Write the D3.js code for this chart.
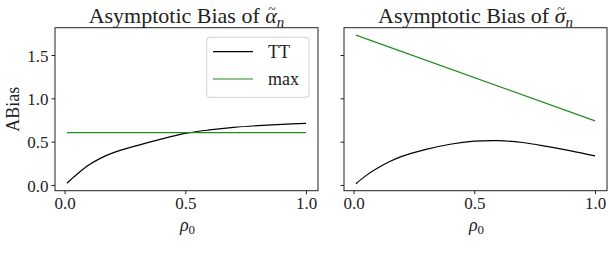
<!DOCTYPE html>
<html>
<head>
<meta charset="utf-8">
<script src="https://cdn.jsdelivr.net/npm/d3@7"></script>
<style>
  body { margin: 0; background: #fff; }
  svg text { font-family: "Liberation Serif", "DejaVu Serif", serif; fill: #222; }
</style>
</head>
<body>
<div id="chart"></div>
<script>
// rho_0 grid
const rho = [0.01, 0.05, 0.1, 0.15, 0.2, 0.3, 0.4, 0.5, 0.6, 0.7, 0.8, 0.9, 1.0];
const alphaTT = [0.02, 0.12, 0.23, 0.31, 0.37, 0.455, 0.53, 0.595, 0.635, 0.665, 0.685, 0.70, 0.712];
const sigmaTT = [0.015, 0.105, 0.195, 0.27, 0.33, 0.41, 0.47, 0.505, 0.512, 0.49, 0.445, 0.393, 0.335];
const maxRho = [0.01, 1.0];
const alphaMax = [0.605, 0.605];
const sigmaMax = [1.73, 0.74];

const xTicks = [0, 0.5, 1.0];
const yTicks = [0, 0.5, 1.0, 1.5];
const seriesNames = ["TT", "max"];
const seriesColors = ["#000000", "#228b22"];

const width = 615, height = 266;
const top_ = 27.7, bottom = 190.7;
const serif = '"Liberation Serif", "DejaVu Serif", serif';

const svg = d3.select("#chart").append("svg")
    .attr("width", width)
    .attr("height", height);

const y = d3.scaleLinear().domain([-0.066, 1.815]).range([bottom, top_]);

const panels = [
    { left: 55, right: 318, tt: alphaTT, mx: alphaMax, sym: "α", labels: true, legend: true },
    { left: 344, right: 607, tt: sigmaTT, mx: sigmaMax, sym: "σ", labels: false, legend: false }
];

panels.forEach(p => {
    const x = d3.scaleLinear().domain([-0.0395, 1.0495]).range([p.left, p.right]);
    const g = svg.append("g");

    const line = d3.line().x(d => x(d[0])).y(d => y(d[1])).curve(d3.curveCatmullRom.alpha(0.5));

    g.append("path")
        .attr("d", line(rho.map((r, i) => [r, p.tt[i]])))
        .attr("fill", "none")
        .attr("stroke", seriesColors[0])
        .attr("stroke-width", 1.2);

    g.append("path")
        .attr("d", line(maxRho.map((r, i) => [r, p.mx[i]])))
        .attr("fill", "none")
        .attr("stroke", seriesColors[1])
        .attr("stroke-width", 1.2);

    // axes
    const xa = g.append("g")
        .attr("transform", `translate(0,${bottom})`)
        .attr("font-family", serif)
        .call(d3.axisBottom(x).tickValues(xTicks).tickFormat(d3.format(".1f")).tickSize(3.5).tickPadding(3));
    xa.select(".domain").remove();
    xa.selectAll("line").attr("stroke", "#222");
    xa.selectAll("text").style("font-size", "17px").style("font-family", serif).attr("fill", "#222");

    const ya = g.append("g")
        .attr("transform", `translate(${p.left},0)`)
        .attr("font-family", serif)
        .call(d3.axisLeft(y).tickValues(yTicks).tickFormat(p.labels ? d3.format(".1f") : "").tickSize(3.5).tickPadding(3));
    ya.select(".domain").remove();
    ya.selectAll("line").attr("stroke", "#222");
    ya.selectAll("text").style("font-size", "17px").style("font-family", serif).attr("fill", "#222").attr("dy", "0.36em");

    g.append("rect")
        .attr("x", p.left).attr("y", top_)
        .attr("width", p.right - p.left).attr("height", bottom - top_)
        .attr("fill", "none").attr("stroke", "#222").attr("stroke-width", 1);

    // title; the tilde is a tspan shifted back over the greek letter
    const t = g.append("text")
        .attr("x", (p.left + p.right) / 2)
        .attr("y", 23)
        .attr("text-anchor", "middle")
        .style("font-size", "22px");
    t.append("tspan").text("Asymptotic Bias of ");
    const sym = t.append("tspan").style("font-style", "italic").text(p.sym);
    const til = t.append("tspan").style("font-size", "14px").text("~");
    const sub = t.append("tspan").style("font-style", "italic").style("font-size", "15px").text("n");
    const wa = sym.node().getComputedTextLength();
    const wt = til.node().getComputedTextLength();
    const dx3 = -(wa + wt) / 2 + 1;
    til.attr("dx", dx3).attr("dy", -9);
    sub.attr("dx", -(dx3 + wt)).attr("dy", 13);

    // x label
    const xl = g.append("text")
        .attr("x", (p.left + p.right) / 2 + 1)
        .attr("y", 231)
        .attr("text-anchor", "middle")
        .style("font-size", "18px");
    xl.append("tspan").style("font-style", "italic").text("ρ");
    xl.append("tspan").style("font-size", "13px").attr("dy", 3).text("0");

    if (p.labels) {
        g.append("text")
            .attr("transform", `translate(19,${(top_ + bottom) / 2}) rotate(-90)`)
            .attr("text-anchor", "middle")
            .style("font-size", "18px")
            .text("ABias");
    }

    if (p.legend) {
        const lg = g.append("g");
        lg.append("rect")
            .attr("x", 206.7).attr("y", 37.3)
            .attr("width", 102.3).attr("height", 60)
            .attr("rx", 3)
            .attr("fill", "#fff").attr("fill-opacity", 0.8)
            .attr("stroke", "#d0d0d0").attr("stroke-width", 1);
        seriesNames.forEach((name, i) => {
            const ly = 51.7 + i * 27.3;
            lg.append("line")
                .attr("x1", 213).attr("x2", 253)
                .attr("y1", ly).attr("y2", ly)
                .attr("stroke", seriesColors[i]).attr("stroke-width", 1.2);
            lg.append("text")
                .attr("x", 268).attr("y", ly + 6)
                .style("font-size", "18px")
                .text(name);
        });
    }
});
</script>
</body>
</html>
